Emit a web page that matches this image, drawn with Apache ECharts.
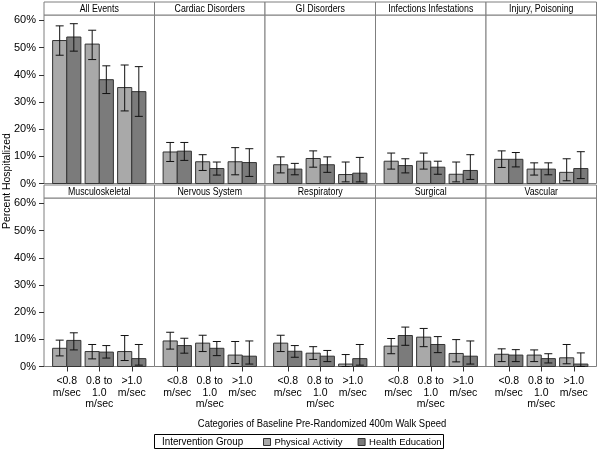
<!DOCTYPE html>
<html>
<head>
<meta charset="utf-8">
<script src="https://cdn.jsdelivr.net/npm/echarts@6/dist/echarts.min.js"></script>
<style>html,body{margin:0;padding:0;background:#fff}#c{width:600px;height:450px}</style>
</head>
<body>
<div id="c"></div>
<script>
const categories = ['<0.8\nm/sec', '0.8 to\n1.0\nm/sec', '>1.0\nm/sec'];
const panels = ['All Events', 'Cardiac Disorders', 'GI Disorders', 'Infections Infestations', 'Injury, Poisoning',
                'Musculoskeletal', 'Nervous System', 'Respiratory', 'Surgical', 'Vascular'];
const groups = ['Physical Activity', 'Health Education'];
const yTicks = [0, 10, 20, 30, 40, 50, 60];

// Physical Activity: percent, lower CI, upper CI (per panel, per walk-speed category)
const paPct  = [[52.6,51.3,35.3],[11.6,8.0,8.0],[6.9,9.2,3.3],[8.2,8.2,3.4],[8.9,5.3,4.1],[6.7,5.5,5.5],[9.4,8.6,4.2],[8.6,4.9,0.9],[7.5,10.8,4.8],[4.5,4.2,3.2]];
const paLow  = [[47.2,45.6,26.7],[8.1,4.8,3.2],[3.9,6.0,0.6],[5.3,5.3,0.6],[5.9,3.1,1.0],[3.9,2.8,2.2],[6.4,5.5,1.1],[5.5,2.6,0.0],[4.7,7.3,1.7],[1.8,1.8,1.0]];
const paHigh = [[58.0,56.4,43.6],[15.1,10.6,13.2],[9.8,12.0,7.9],[11.2,11.2,7.9],[12.0,7.6,9.1],[9.7,8.1,11.4],[12.6,11.5,9.2],[11.5,7.3,4.4],[10.3,14.0,9.9],[6.5,6.1,8.1]];
// Health Education
const hePct  = [[53.9,38.2,33.8],[11.9,5.5,7.7],[5.3,6.9,3.8],[6.6,6.0,4.8],[8.9,5.3,5.5],[9.6,5.3,2.9],[7.7,6.7,3.8],[5.6,3.8,2.9],[11.4,8.1,3.8],[4.2,2.9,0.9]];
const heLow  = [[48.7,33.1,24.7],[8.5,3.1,2.6],[3.2,4.1,0.6],[3.9,3.4,1.5],[6.1,3.2,1.8],[6.1,3.1,0.5],[4.9,4.0,0.9],[3.4,1.8,0.5],[7.8,5.1,0.9],[1.8,1.3,0.0]];
const heHigh = [[58.8,43.3,43.0],[15.1,7.9,12.8],[7.4,9.8,9.6],[9.1,8.2,10.6],[11.4,7.6,11.7],[12.4,7.7,8.1],[10.4,9.2,9.4],[7.7,5.9,8.1],[14.5,11.0,9.4],[6.2,4.7,5.0]];

const FONT = "'Liberation Sans', Arial, sans-serif";
const colors = ['#a9a9a9', '#7b7b7b'];
const L = 44, PW = 110.5, TOPS = [15, 198], PH = 168.5, INSET = 6.5, HH = 13, YMAX = 62;

const grids = [], xAxes = [], yAxes = [], series = [], graphics = [];

function makeRender(g) {
  return function (params, api) {
    const x = api.value(0), v = api.value(1), lo = api.value(2), hi = api.value(3);
    const base = api.coord([x, 0]);
    const top = api.coord([x, v]);
    const band = api.size([1, 0])[0];
    const bw = band * 0.435;
    const x0 = g === 0 ? base[0] - bw : base[0];
    const cx = x0 + bw / 2;
    const yl = api.coord([x, lo])[1], yh = api.coord([x, hi])[1];
    const cap = 4;
    const ls = { stroke: '#111', lineWidth: 1 };
    return { type: 'group', children: [
      { type: 'rect', shape: { x: x0, y: top[1], width: bw, height: base[1] - top[1] },
        style: { fill: colors[g], stroke: '#333', lineWidth: 1 } },
      { type: 'line', shape: { x1: cx, y1: yl, x2: cx, y2: yh }, style: ls },
      { type: 'line', shape: { x1: cx - cap, y1: yh, x2: cx + cap, y2: yh }, style: ls },
      { type: 'line', shape: { x1: cx - cap, y1: yl, x2: cx + cap, y2: yl }, style: ls }
    ] };
  };
}

panels.forEach((name, i) => {
  const r = Math.floor(i / 5), c = i % 5;
  const left = L + c * PW, top = TOPS[r];
  grids.push({ left: left, top: top, width: PW, height: PH, show: true, borderColor: '#7f7f7f', borderWidth: 1, backgroundColor: '#fff' });
  grids.push({ left: left + INSET, top: top, width: PW - 2 * INSET, height: PH });
  xAxes.push({ gridIndex: 2 * i, type: 'category', data: categories, show: false });
  yAxes.push({ gridIndex: 2 * i, type: 'value', min: 0, max: YMAX,
    axisLine: { show: false },
    axisTick: { show: c === 0, length: 5, customValues: yTicks, lineStyle: { color: '#333' } },
    axisLabel: { show: c === 0, customValues: yTicks, formatter: '{value}%', color: '#000', fontSize: 11, margin: 8, fontFamily: FONT },
    splitLine: { show: false } });
  xAxes.push({ gridIndex: 2 * i + 1, type: 'category', data: categories,
    axisLine: { show: false },
    axisTick: { show: r === 1, alignWithLabel: true, length: 5, lineStyle: { color: '#333' } },
    axisLabel: { show: r === 1, interval: 0, color: '#000', fontSize: 10.5, lineHeight: 11.5, margin: 9, fontFamily: FONT },
    splitLine: { show: false } });
  yAxes.push({ gridIndex: 2 * i + 1, type: 'value', min: 0, max: YMAX, show: false });

  const sets = [[paPct, paLow, paHigh], [hePct, heLow, heHigh]];
  sets.forEach((s, g) => {
    series.push({
      type: 'custom', name: groups[g], xAxisIndex: 2 * i + 1, yAxisIndex: 2 * i + 1,
      itemStyle: { color: colors[g], borderColor: '#333', borderWidth: 1 },
      encode: { x: 0, y: 1 },
      data: s[0][i].map((v, k) => [k, v, s[1][i][k], s[2][i][k]]),
      renderItem: makeRender(g)
    });
  });

  graphics.push({ type: 'rect', shape: { x: left, y: top - HH, width: PW, height: HH },
    style: { fill: '#fff', stroke: '#7f7f7f', lineWidth: 1 } });
  graphics.push({ type: 'text', x: left + PW / 2, y: top - HH / 2 + 0.5, scaleX: 0.8,
    style: { text: name, font: '11px ' + FONT, fill: '#000', align: 'center', verticalAlign: 'middle' } });
});

graphics.push({ type: 'text', x: 7, y: 181, rotation: Math.PI / 2, scaleX: 0.95,
  style: { text: 'Percent Hospitalized', font: '11px ' + FONT, fill: '#000', align: 'center', verticalAlign: 'middle' } });
graphics.push({ type: 'text', x: 322, y: 424, scaleX: 0.86,
  style: { text: 'Categories of Baseline Pre-Randomized 400m Walk Speed', font: '11px ' + FONT, fill: '#000', align: 'center', verticalAlign: 'middle' } });
graphics.push({ type: 'rect', z: 0, shape: { x: 154.5, y: 434.5, width: 289, height: 14 },
  style: { fill: '#fff', stroke: '#000', lineWidth: 1 } });
graphics.push({ type: 'text', z: 1, x: 162, y: 441.5, scaleX: 0.89,
  style: { text: 'Intervention Group', font: '11px ' + FONT, fill: '#000', align: 'left', verticalAlign: 'middle' } });

const chart = echarts.init(document.getElementById('c'), null, { renderer: 'canvas' });
chart.setOption({
  animation: false,
  backgroundColor: '#fff',
  textStyle: { fontFamily: FONT },
  grid: grids, xAxis: xAxes, yAxis: yAxes, series: series,
  graphic: { elements: graphics },
  legend: { data: groups, icon: 'rect', left: 263, top: 437, itemWidth: 7, itemHeight: 7, itemGap: 15, padding: 0, z: 10,
    itemStyle: { borderColor: '#333', borderWidth: 1 },
    textStyle: { fontSize: 9.5, color: '#000', fontFamily: FONT, padding: [0, 0, 0, -1] } }
});
</script>
</body>
</html>
